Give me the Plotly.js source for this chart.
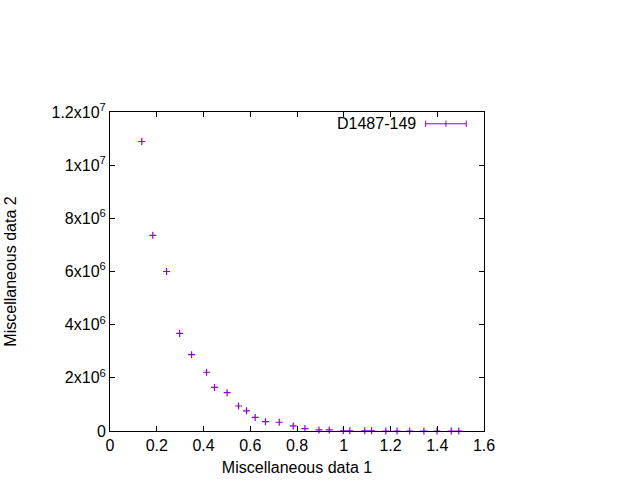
<!DOCTYPE html>
<html>
<head>
<meta charset="utf-8">
<script src="https://cdn.plot.ly/plotly-3.0.1.min.js"></script>
<style>html,body{margin:0;padding:0;background:#fff;}#chart{width:640px;height:480px;}</style>
</head>
<body>
<div id="chart"></div>
<script>
const seriesName = "D1487-149";
const xValues = [0.136, 0.183, 0.242, 0.298, 0.349, 0.413, 0.447, 0.501, 0.550, 0.584,
                 0.621, 0.665, 0.724, 0.784, 0.834, 0.894, 0.938, 0.998, 1.026, 1.090,
                 1.119, 1.180, 1.228, 1.282, 1.343, 1.399, 1.460, 1.492];
const yValues = [10.89e6, 7.36e6, 6.00e6, 3.67e6, 2.87e6, 2.21e6, 1.64e6, 1.44e6, 0.94e6, 0.76e6,
                 0.51e6, 0.35e6, 0.33e6, 0.19e6, 0.09e6, 0.04e6, 0.04e6, 0.01e6, 0.01e6, 0.01e6,
                 0.01e6, 0.0, 0.0, 0.0, 0.0, 0.0, 0.0, 0.0];
const yTickVals = [0, 2e6, 4e6, 6e6, 8e6, 1e7, 1.2e7];
const yTickText = ["0", "2x10<sup>6</sup>", "4x10<sup>6</sup>", "6x10<sup>6</sup>", "8x10<sup>6</sup>", "1x10<sup>7</sup>", "1.2x10<sup>7</sup>"];
const xTitle = "Miscellaneous data 1";
const yTitle = "Miscellaneous data 2";

const purple = "#9400d3";
const font = {family: "Liberation Sans, Arial, sans-serif", size: 16, color: "#000"};

const trace = {
  x: xValues, y: yValues, type: "scatter", mode: "markers", name: seriesName,
  cliponaxis: false, showlegend: false,
  marker: {symbol: "cross-thin-open", size: 5, color: purple, line: {color: purple, width: 1.2}}
};

const L = 109.5, R = 484.5, T = 111.5, B = 431;
const W = R - L, H = B - T;
const px = v => (v - L) / W;
const py = v => (B - v) / H;
const ly = py(123.3), tk = 3.2 / H;

const layout = {
  width: 640, height: 480,
  margin: {l: L, r: 640 - R, t: T, b: 480 - B, pad: 0},
  paper_bgcolor: "#fff", plot_bgcolor: "#fff",
  font: font,
  showlegend: false,
  xaxis: {
    range: [0, 1.6], dtick: 0.2, tick0: 0, ticks: "inside", ticklen: 5, tickcolor: "#000",
    showline: true, linecolor: "#000", linewidth: 1, mirror: "ticks", showgrid: false, zeroline: false,
    tickfont: font, title: {text: xTitle, font: font, standoff: 8}
  },
  yaxis: {
    range: [0, 1.2e7], tickvals: yTickVals, ticktext: yTickText, ticks: "inside", ticklen: 5, tickcolor: "#000",
    showline: true, linecolor: "#000", linewidth: 1, mirror: "ticks", showgrid: false, zeroline: false,
    tickfont: font, title: {text: yTitle, font: font, standoff: 30}
  },
  annotations: [{
    xref: "paper", yref: "paper", x: px(418), y: ly, xanchor: "right", yanchor: "middle",
    text: seriesName, showarrow: false, font: font
  }],
  shapes: [
    {type: "line", xref: "paper", yref: "paper", x0: px(426), x1: px(466.7), y0: ly, y1: ly, line: {color: purple, width: 1}},
    {type: "line", xref: "paper", yref: "paper", x0: px(426), x1: px(426), y0: ly - tk, y1: ly + tk, line: {color: purple, width: 1}},
    {type: "line", xref: "paper", yref: "paper", x0: px(466.7), x1: px(466.7), y0: ly - tk, y1: ly + tk, line: {color: purple, width: 1}},
    {type: "line", xref: "paper", yref: "paper", x0: px(446.3), x1: px(446.3), y0: ly - tk, y1: ly + tk, line: {color: purple, width: 1}}
  ]
};

Plotly.newPlot("chart", [trace], layout, {staticPlot: true, displayModeBar: false});
</script>
</body>
</html>
